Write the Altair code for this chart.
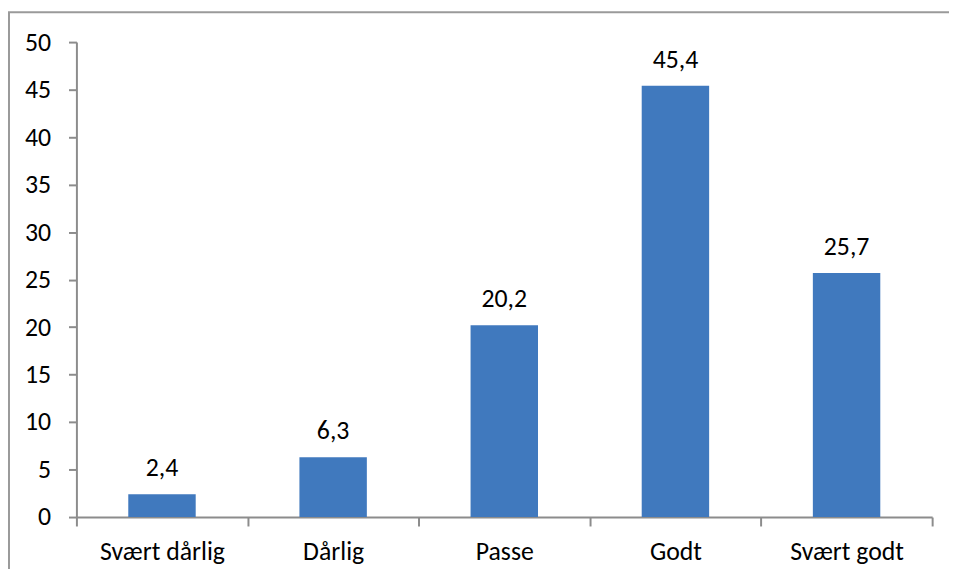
import altair as alt
import pandas as pd

categories = ["Svært dårlig", "Dårlig", "Passe", "Godt", "Svært godt"]
values = [2.4, 6.3, 20.2, 45.4, 25.7]
y_ticks = [0, 5, 10, 15, 20, 25, 30, 35, 40, 45, 50]

df = pd.DataFrame({"kategori": categories, "verdi": values})

FONT = "Carlito, Calibri, Liberation Sans"
FS = 26
BAR = "#4079BE"
AXIS = "#8C8C8C"

x_enc = alt.X(
    "kategori:N",
    sort=categories,
    title=None,
    scale=alt.Scale(paddingInner=0, paddingOuter=0),
    axis=alt.Axis(
        labelAngle=0,
        labelFont=FONT,
        labelFontSize=FS,
        labelColor="#000000",
        labelPadding=13,
        domainColor=AXIS,
        domainWidth=2,
        tickColor=AXIS,
        tickWidth=2,
        tickSize=9,
        tickBand="extent",
        grid=False,
    ),
)
y_enc = alt.Y(
    "verdi:Q",
    title=None,
    scale=alt.Scale(domain=[0, 50], nice=False),
    axis=alt.Axis(
        values=y_ticks,
        labelFont=FONT,
        labelFontSize=FS,
        labelColor="#000000",
        labelPadding=18,
        domainColor=AXIS,
        domainWidth=2,
        tickColor=AXIS,
        tickWidth=2,
        tickSize=8,
        grid=False,
    ),
)

bars = alt.Chart(df).mark_bar(color=BAR, width=alt.RelativeBandSize(0.394)).encode(x=x_enc, y=y_enc)

labels = (
    alt.Chart(df)
    .transform_calculate(lbl="replace(format(datum.verdi, '.1f'), '.', ',')")
    .mark_text(font=FONT, fontSize=FS, color="#000000", baseline="alphabetic", dy=-18)
    .encode(x=alt.X("kategori:N", sort=categories), y="verdi:Q", text="lbl:N")
)

border = (
    alt.Chart(pd.DataFrame({"a": [0]}))
    .mark_rect(fill=None, stroke="#9A9A9A", strokeWidth=2, clip=False)
    .encode(
        x=alt.value(-68),
        x2=alt.value(1000),
        y=alt.value(-30),
        y2=alt.value(700),
    )
)

chart = (
    alt.layer(border, bars, labels)
    .properties(
        width=863,
        height=479,
        autosize=alt.AutoSizeParams(type="none"),
        padding={"left": 69, "top": 32, "right": 17, "bottom": 50},
        background="white",
    )
    .configure_view(stroke=None)
)

chart.save("out.html", embed_options={"renderer": "svg", "actions": False})
